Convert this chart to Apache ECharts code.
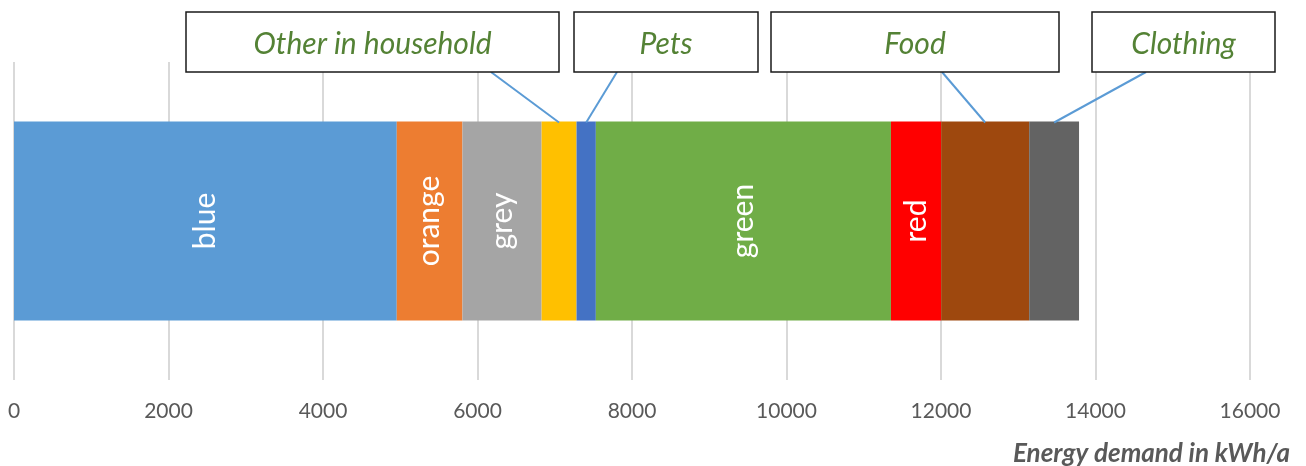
<!DOCTYPE html>
<html>
<head>
<meta charset="utf-8">
<script src="https://cdn.jsdelivr.net/npm/echarts@6/dist/echarts.min.js"></script>
<style>
html,body{margin:0;padding:0;background:#fff;}
#c{width:1306px;height:466px;}
</style>
</head>
<body>
<div id="c"></div>
<script>
// ---- data ----
const categories = ['Total'];
const seriesNames = ['blue', 'orange', 'grey', 'yellow', 'blue2', 'green', 'red', 'brown', 'darkgrey'];
const seriesValues = [4955, 850, 1025, 452, 250, 3820, 650, 1140, 645];
const insideLabels = ['blue', 'orange', 'grey', '', '', 'green', 'red', '', ''];
const seriesColors = ['#5B9BD5', '#ED7D31', '#A5A5A5', '#FFC000', '#4472C4', '#70AD47', '#FF0000', '#9E480E', '#636363'];
const xTicks = [0, 2000, 4000, 6000, 8000, 10000, 12000, 14000, 16000];
const calloutNames = ['Other in household', 'Pets', 'Food', 'Clothing'];
const calloutSeries = ['yellow', 'blue2', 'brown', 'darkgrey'];
// callout box layout: [left, top, width, height, line start x]
const calloutBoxes = [
  [186, 12, 373, 60, 491],
  [574, 12, 184, 60, 617],
  [771, 12, 288, 60, 942],
  [1092, 12, 183, 60, 1146]
];
const axisTitle = 'Energy demand in kWh/a';

const BAR_W = 199;
const FONT = 'Lato, "Open Sans", sans-serif';

const chart = echarts.init(document.getElementById('c'), null, {renderer: 'canvas'});

const series = seriesNames.map((n, i) => ({
  name: n,
  type: 'bar',
  stack: 'total',
  barWidth: BAR_W,
  data: [seriesValues[i]],
  itemStyle: {color: seriesColors[i]},
  label: {
    show: insideLabels[i] !== '',
    position: 'inside',
    rotate: 90,
    formatter: () => insideLabels[i],
    color: '#ffffff',
    fontSize: 30,
    fontFamily: FONT
  },
  emphasis: {disabled: true},
  animation: false
}));

chart.setOption({
  animation: false,
  grid: {left: 14, right: 56, top: 62, bottom: 86, containLabel: false},
  title: {
    text: axisTitle,
    right: 16,
    bottom: -1,
    padding: 0,
    textStyle: {color: '#595959', fontSize: 26, fontStyle: 'italic', fontWeight: 'bold', fontFamily: FONT}
  },
  xAxis: {
    type: 'value',
    min: xTicks[0],
    max: xTicks[xTicks.length - 1],
    interval: xTicks[1] - xTicks[0],
    axisLine: {show: false},
    axisTick: {show: false},
    splitLine: {show: true, lineStyle: {color: '#D9D9D9', width: 2}},
    axisLabel: {color: '#595959', fontSize: 21, fontFamily: FONT, margin: 21, formatter: v => String(v)}
  },
  yAxis: {
    type: 'category',
    data: categories,
    show: false
  },
  series: series
});

// callouts: boxes with leader lines pointing at the segment centres
(function addCallouts() {
  const yc = chart.convertToPixel({yAxisIndex: 0}, categories[0]);
  const barTop = yc - BAR_W / 2;
  const g = [];
  calloutNames.forEach((name, i) => {
    const idx = seriesNames.indexOf(calloutSeries[i]);
    let start = 0;
    for (let j = 0; j < idx; j++) start += seriesValues[j];
    const xc = chart.convertToPixel({xAxisIndex: 0}, start + seriesValues[idx] / 2);
    const b = calloutBoxes[i];
    g.push({type: 'line', z: 10, shape: {x1: b[4], y1: b[1] + b[3], x2: xc, y2: barTop + 1},
      style: {stroke: '#5B9BD5', lineWidth: 2}});
    g.push({type: 'rect', z: 11, shape: {x: b[0], y: b[1], width: b[2], height: b[3]},
      style: {fill: '#ffffff', stroke: '#1a1a1a', lineWidth: 1.5}});
    g.push({type: 'text', z: 12, x: b[0] + b[2] / 2, y: b[1] + b[3] / 2 + 2,
      style: {text: name, align: 'center', verticalAlign: 'middle', fill: '#548235',
        fontSize: 30, fontStyle: 'italic', fontFamily: FONT}});
  });
  chart.setOption({graphic: g});
})();
</script>
</body>
</html>
